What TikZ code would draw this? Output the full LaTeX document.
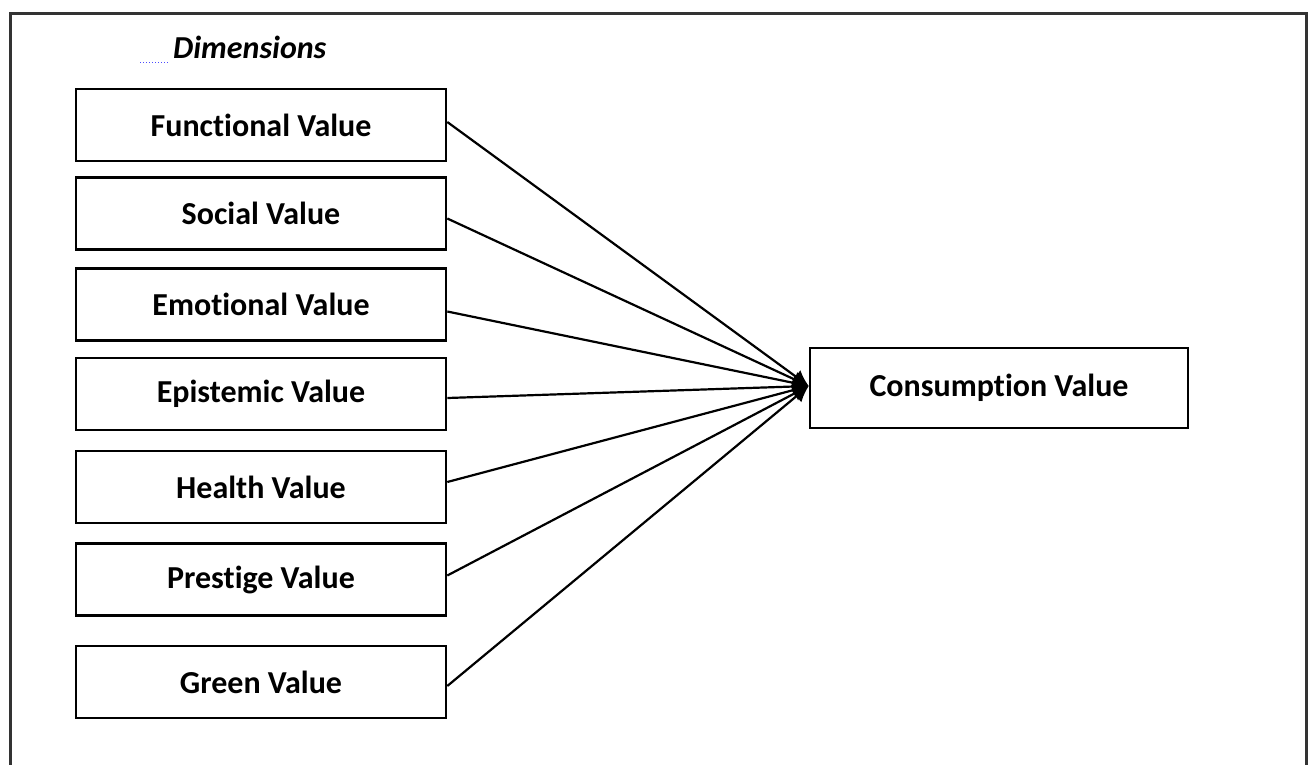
\documentclass[tikz,border=0pt]{standalone}
\usepackage{fontspec}
\setmainfont[Ligatures={NoCommon}]{Carlito}
\usetikzlibrary{arrows.meta}
\begin{document}
\begin{tikzpicture}[x=1pt,y=-1pt,
  dimbox/.style={draw, line width=2.6pt, minimum width=370pt, minimum height=72pt, inner sep=0pt,
    font=\fontsize{32}{38}\selectfont\bfseries},
  link/.style={line width=2.2pt, -{Latex[length=16pt,width=16pt]}}]
\useasboundingbox (0,0) rectangle (1312,764);
\fill[white] (0,0) rectangle (1312,764);
\draw[line width=3pt, black!80] (10,770) -- (10,13) -- (1306,13) -- (1306,770);
\node[font=\fontsize{32}{38}\selectfont\bfseries\itshape, anchor=west, inner sep=0pt] (dim) at (173,47) {Dimensions};
\draw[blue!70, dotted, line width=1pt] (140,62) -- (168,62);
\node[dimbox] (f) at (261,125) {Functional Value};
\node[dimbox] (s) at (261,213.5) {Social Value};
\node[dimbox] (em) at (261,304.5) {Emotional Value};
\node[dimbox] (ep) at (261,394) {Epistemic Value};
\node[dimbox] (h) at (261,487) {Health Value};
\node[dimbox] (p) at (261,579.5) {Prestige Value};
\node[dimbox] (g) at (261,682) {Green Value};
\node[draw, line width=2.6pt, minimum width=378pt, minimum height=80pt, inner sep=0pt,
  font=\fontsize{32}{38}\selectfont\bfseries] (c) at (999,388) {Consumption Value};
\coordinate (tip) at ([yshift=2pt]c.west);
\draw[link] ([yshift=3pt]f.east) -- (tip);
\draw[link] ([yshift=-5pt]s.east) -- (tip);
\draw[link] ([yshift=-7pt]em.east) -- (tip);
\draw[link] ([yshift=-4pt]ep.east) -- (tip);
\draw[link] ([yshift=5pt]h.east) -- (tip);
\draw[link] ([yshift=4pt]p.east) -- (tip);
\draw[link] ([yshift=-4pt]g.east) -- (tip);
\end{tikzpicture}
\end{document}
